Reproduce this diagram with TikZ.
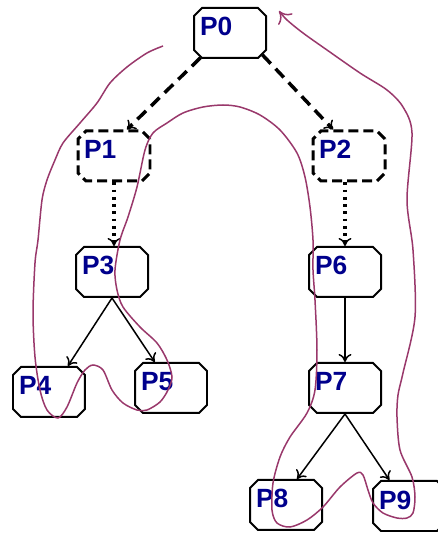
\documentclass[tikz,border=0pt]{standalone}
\usepackage{fontspec}
\setmainfont{Liberation Sans}
\usetikzlibrary{shapes.misc,arrows.meta}
\definecolor{procblue}{rgb}{0.000000,0.000000,0.550000}
\definecolor{penpurple}{rgb}{0.600000,0.220000,0.420000}
\tikzset{
  proc/.style={chamfered rectangle, chamfered rectangle xsep=0.08cm,
    chamfered rectangle ysep=0.08cm, draw, line width=0.04cm,
    inner xsep=0.04cm, inner ysep=0.08cm, text width=1.2cm, align=left,
    text height=0.4cm, text depth=0.28cm,
    font=\fontsize{15}{17}\selectfont\bfseries, text=procblue},
  procdash/.style={proc, line width=0.06cm, dash pattern=on 0.2cm off 0.1cm},
  arr/.style={-{To[length=0.16cm,width=0.26cm,line width'=0.03cm]}}
}
\begin{document}
\begin{tikzpicture}
  \useasboundingbox (0,0) rectangle (8.760000,10.700000);

  % Drawing processes
  \node [proc] (P0) at (4.600000,10.040000) {P0};
  \node [procdash] (P1) at (2.280000,7.580000) {P1};
  \node [procdash] (P2) at (6.980000,7.580000) {P2};
  \node [proc] (P3) at (2.240000,5.260000) {P3};
  \node [proc] (P6) at (6.900000,5.260000) {P6};
  \node [proc] (P4) at (0.980000,2.860000) {P4};
  \node [proc] (P5) at (3.420000,2.940000) {P5};
  \node [proc] (P7) at (6.900000,2.940000) {P7};
  \node [proc] (P8) at (5.720000,0.600000) {P8};
  \node [proc] (P9) at (8.180000,0.580000) {P9};

  % Drawing arrow P0 P1 and P0 P2
  \draw [arr, line width=0.07cm, dash pattern=on 0.24cm off 0.14cm] (P0.220) -- (P1.64);
  \draw [arr, line width=0.07cm, dash pattern=on 0.24cm off 0.14cm] (P0.326) -- (P2.121);

  % Drawing arrow P1 P3 and P2 P6
  \draw [arr, line width=0.065cm, dash pattern=on 0.055cm off 0.09cm] (P1.south) -- (P1.south |- P3.north);
  \draw [arr, line width=0.065cm, dash pattern=on 0.055cm off 0.09cm] (P6.north |- P2.south) -- (P6.north);

  % Drawing arrows out of P3, P6 and P7
  \draw [arr, line width=0.03cm] (P3.south) -- (P4.54);
  \draw [arr, line width=0.03cm] (P3.south) -- (P5.122);
  \draw [arr, line width=0.03cm] (P6.south) -- (P7.north);
  \draw [arr, line width=0.03cm] (P7.south) -- (P8.67);
  \draw [arr, line width=0.03cm] (P7.south) -- (P9.127);

  % Drawing freehand curve
  \draw [penpurple, line width=0.03cm, -{To[length=0.22cm,width=0.36cm,line width'=0.03cm]}]
    plot [smooth, tension=0.5] coordinates {
      (3.260000,9.780000) (2.940000,9.640000) (2.540000,9.360000) (2.200000,9.040000)
      (1.940000,8.640000) (1.600000,8.240000) (1.260000,7.840000) (1.100000,7.500000)
      (0.940000,7.100000) (0.840000,6.700000) (0.760000,5.900000) (0.700000,5.440000)
      (0.660000,4.440000) (0.700000,3.560000) (0.800000,2.900000) (0.940000,2.500000)
      (1.160000,2.340000) (1.340000,2.560000) (1.540000,3.040000) (1.700000,3.300000)
      (1.860000,3.400000) (2.060000,3.300000) (2.240000,2.900000) (2.460000,2.640000)
      (2.740000,2.500000) (2.940000,2.500000) (3.200000,2.660000) (3.360000,2.900000)
      (3.440000,3.160000) (3.340000,3.500000) (3.140000,3.840000) (2.800000,4.160000)
      (2.460000,4.560000) (2.340000,4.900000) (2.300000,5.300000) (2.400000,5.900000)
      (2.560000,6.360000) (2.740000,6.960000) (2.900000,7.700000) (3.060000,8.040000)
      (3.340000,8.240000) (3.660000,8.440000) (4.060000,8.560000) (4.460000,8.600000)
      (4.800000,8.560000) (5.200000,8.400000) (5.600000,8.100000) (5.940000,7.640000)
      (6.100000,7.160000) (6.200000,6.560000) (6.260000,5.900000) (6.260000,5.300000)
      (6.300000,4.700000) (6.340000,3.700000) (6.300000,2.900000) (6.140000,2.440000)
      (5.800000,1.960000) (5.600000,1.560000) (5.460000,1.040000) (5.440000,0.500000)
      (5.540000,0.240000) (5.800000,0.160000) (6.140000,0.300000) (6.460000,0.560000)
      (6.800000,0.960000) (7.140000,1.240000) (7.260000,1.200000) (7.360000,0.900000)
      (7.460000,0.640000) (7.660000,0.440000) (7.940000,0.340000) (8.140000,0.340000)
      (8.260000,0.440000) (8.300000,0.760000) (8.240000,1.160000) (8.000000,1.700000)
      (7.940000,2.360000) (7.960000,2.800000) (8.060000,3.240000) (8.300000,4.360000)
      (8.260000,5.700000) (8.140000,6.700000) (8.240000,8.040000) (8.060000,8.560000)
      (7.740000,8.900000) (7.200000,9.240000) (6.540000,9.700000) (6.060000,10.040000)
      (5.740000,10.300000) (5.580000,10.480000)
    };
\end{tikzpicture}
\end{document}
